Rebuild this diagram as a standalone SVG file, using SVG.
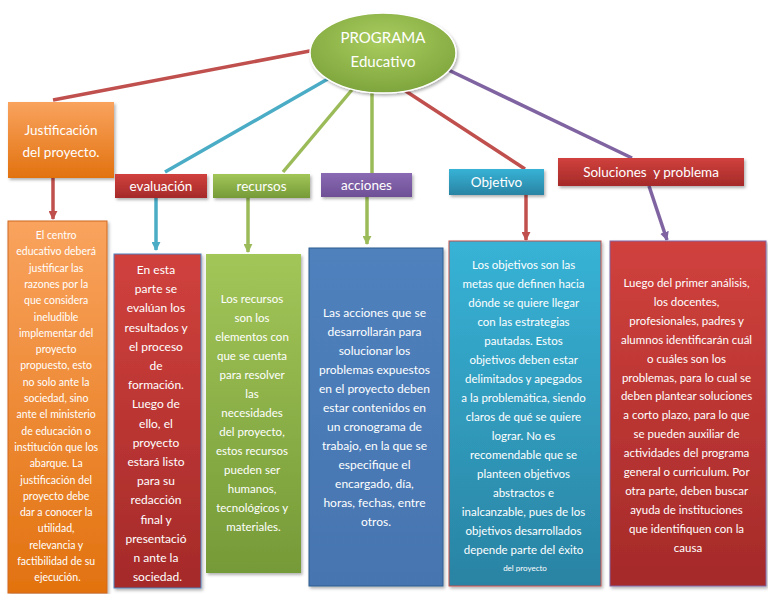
<svg xmlns="http://www.w3.org/2000/svg" width="768" height="594" viewBox="0 0 768 594">
<defs>
<style>
.t{font-family:Lato,"Liberation Sans",sans-serif;fill:#ffffff;text-anchor:middle}
.lbl{font-size:13.5px}
.c{fill:none;stroke-width:3.5}
.body{font-size:11.5px}
</style>
<linearGradient id="gOr" x1="0" y1="0" x2="0" y2="1"><stop offset="0" stop-color="#f9a35e"/><stop offset="1" stop-color="#e2720f"/></linearGradient>
<linearGradient id="gRed" x1="0" y1="0" x2="0" y2="1"><stop offset="0" stop-color="#d0413d"/><stop offset="1" stop-color="#a52a29"/></linearGradient>
<linearGradient id="gGr" x1="0" y1="0" x2="0" y2="1"><stop offset="0" stop-color="#a3c659"/><stop offset="1" stop-color="#759a37"/></linearGradient>
<linearGradient id="gBl" x1="0" y1="0" x2="0" y2="1"><stop offset="0" stop-color="#4f81bd"/><stop offset="1" stop-color="#4675b0"/></linearGradient>
<linearGradient id="gCy" x1="0" y1="0" x2="0" y2="1"><stop offset="0" stop-color="#37b3d6"/><stop offset="1" stop-color="#2a83a3"/></linearGradient>
<linearGradient id="gPu" x1="0" y1="0" x2="0" y2="1"><stop offset="0" stop-color="#8a6bb3"/><stop offset="1" stop-color="#6e4f96"/></linearGradient>
<radialGradient id="gEl" cx="0.5" cy="0.35" r="0.65"><stop offset="0" stop-color="#a9cc5e"/><stop offset="1" stop-color="#7ea53d"/></radialGradient>
<filter id="sh" x="-10%" y="-10%" width="130%" height="130%"><feDropShadow dx="1.5" dy="2" stdDeviation="1.5" flood-color="#000" flood-opacity="0.3"/></filter>
<marker id="aRed" viewBox="0 0 10 10" refX="9" refY="5" markerWidth="9" markerHeight="9" markerUnits="userSpaceOnUse" orient="auto"><path d="M0,0 L10,5 L0,10 z" fill="#c0504d"/></marker>
<marker id="aCy" viewBox="0 0 10 10" refX="9" refY="5" markerWidth="9" markerHeight="9" markerUnits="userSpaceOnUse" orient="auto"><path d="M0,0 L10,5 L0,10 z" fill="#4bacc6"/></marker>
<marker id="aGr" viewBox="0 0 10 10" refX="9" refY="5" markerWidth="9" markerHeight="9" markerUnits="userSpaceOnUse" orient="auto"><path d="M0,0 L10,5 L0,10 z" fill="#9bbb59"/></marker>
<marker id="aPu" viewBox="0 0 10 10" refX="9" refY="5" markerWidth="9" markerHeight="9" markerUnits="userSpaceOnUse" orient="auto"><path d="M0,0 L10,5 L0,10 z" fill="#8064a2"/></marker>
</defs>
<rect width="768" height="594" fill="#ffffff"/>

<g id="connectors">
<line class="c" x1="315" y1="50" x2="53" y2="100" stroke="#c0504d"/>
<line class="c" x1="333" y1="76" x2="165" y2="172" stroke="#4bacc6"/>
<line class="c" x1="356" y1="85" x2="283" y2="172" stroke="#9bbb59"/>
<line class="c" x1="372" y1="90" x2="372" y2="173" stroke="#9bbb59"/>
<line class="c" x1="401" y1="88" x2="525" y2="169" stroke="#c0504d"/>
<line class="c" x1="438" y1="65" x2="632" y2="158" stroke="#8064a2"/>
<line class="c" x1="53" y1="178" x2="53" y2="219" stroke="#c0504d" marker-end="url(#aRed)"/>
<line class="c" x1="156" y1="198" x2="156" y2="250" stroke="#4bacc6" marker-end="url(#aCy)"/>
<line class="c" x1="248" y1="198" x2="248" y2="252" stroke="#9bbb59" marker-end="url(#aGr)"/>
<line class="c" x1="367" y1="197" x2="367" y2="244" stroke="#9bbb59" marker-end="url(#aGr)"/>
<line class="c" x1="526" y1="195" x2="526" y2="240" stroke="#c0504d" marker-end="url(#aRed)"/>
<line class="c" x1="649" y1="186" x2="667" y2="240" stroke="#8064a2" marker-end="url(#aPu)"/>
</g>

<g id="programa">
<ellipse cx="383" cy="53" rx="73" ry="40" fill="url(#gEl)" stroke="#ffffff" stroke-width="1.5" filter="url(#sh)"/>
<text class="t" x="383" y="43" font-size="15" fill="#f4f6e8">PROGRAMA</text>
<text class="t" x="383" y="67" font-size="15" fill="#f4f6e8">Educativo</text>
</g>

<g id="justificacion">
<rect x="8" y="102" width="106" height="76" fill="url(#gOr)" filter="url(#sh)"/>
<text class="t lbl" x="61" y="135">Justificación</text>
<text class="t lbl" x="61" y="157">del proyecto.</text>
</g>

<g id="evaluacion">
<rect x="115" y="174" width="92" height="24" fill="url(#gRed)" filter="url(#sh)"/>
<text class="t lbl" x="161" y="191">evaluación</text>
</g>

<g id="recursos">
<rect x="213" y="174" width="97" height="24" fill="url(#gGr)" filter="url(#sh)"/>
<text class="t lbl" x="261.5" y="191">recursos</text>
</g>

<g id="acciones">
<rect x="321" y="173" width="91" height="24" fill="url(#gPu)" filter="url(#sh)"/>
<text class="t lbl" x="366.5" y="190">acciones</text>
</g>

<g id="objetivo">
<rect x="449" y="169" width="95" height="26" fill="url(#gCy)" filter="url(#sh)"/>
<text class="t lbl" x="496.5" y="187">Objetivo</text>
</g>

<g id="soluciones">
<rect x="558" y="158" width="186" height="28" fill="url(#gRed)" filter="url(#sh)"/>
<text class="t lbl" x="651" y="177" xml:space="preserve">Soluciones&#160; y problema</text>
</g>

<g id="justificacion-detalle">
<rect x="8" y="221" width="99" height="372" fill="url(#gOr)" stroke="#d06a20" stroke-width="1" filter="url(#sh)"/>
<text class="t" font-size="10.5" x="57.5" y="239">
<tspan x="57.5">El centro</tspan>
<tspan x="57.5" dy="16.3">educativo deberá</tspan>
<tspan x="57.5" dy="16.3">justificar las</tspan>
<tspan x="57.5" dy="16.3">razones por la</tspan>
<tspan x="57.5" dy="16.3">que considera</tspan>
<tspan x="57.5" dy="16.3">ineludible</tspan>
<tspan x="57.5" dy="16.3">implementar del</tspan>
<tspan x="57.5" dy="16.3">proyecto</tspan>
<tspan x="57.5" dy="16.3">propuesto, esto</tspan>
<tspan x="57.5" dy="16.3">no solo ante la</tspan>
<tspan x="57.5" dy="16.3">sociedad, sino</tspan>
<tspan x="57.5" dy="16.3">ante el ministerio</tspan>
<tspan x="57.5" dy="16.3">de educación o</tspan>
<tspan x="57.5" dy="16.3">institución que los</tspan>
<tspan x="57.5" dy="16.3">abarque. La</tspan>
<tspan x="57.5" dy="16.3">justificación del</tspan>
<tspan x="57.5" dy="16.3">proyecto debe</tspan>
<tspan x="57.5" dy="16.3">dar a conocer la</tspan>
<tspan x="57.5" dy="16.3">utilidad,</tspan>
<tspan x="57.5" dy="16.3">relevancia y</tspan>
<tspan x="57.5" dy="16.3">factibilidad de su</tspan>
<tspan x="57.5" dy="16.3">ejecución.</tspan>
</text>
</g>

<g id="evaluacion-detalle">
<rect x="114" y="254" width="87" height="334" fill="url(#gRed)" stroke="#4f81bd" stroke-width="1" filter="url(#sh)"/>
<text class="t" font-size="12" x="157.5" y="274">
<tspan x="157.5">En esta</tspan>
<tspan x="157.5" dy="19.2">parte se</tspan>
<tspan x="157.5" dy="19.2">evalúan los</tspan>
<tspan x="157.5" dy="19.2">resultados y</tspan>
<tspan x="157.5" dy="19.2">el proceso</tspan>
<tspan x="157.5" dy="19.2">de</tspan>
<tspan x="157.5" dy="19.2">formación.</tspan>
<tspan x="157.5" dy="19.2">Luego de</tspan>
<tspan x="157.5" dy="19.2">ello, el</tspan>
<tspan x="157.5" dy="19.2">proyecto</tspan>
<tspan x="157.5" dy="19.2">estará listo</tspan>
<tspan x="157.5" dy="19.2">para su</tspan>
<tspan x="157.5" dy="19.2">redacción</tspan>
<tspan x="157.5" dy="19.2">final y</tspan>
<tspan x="157.5" dy="19.2">presentació</tspan>
<tspan x="157.5" dy="19.2">n ante la</tspan>
<tspan x="157.5" dy="19.2">sociedad.</tspan>
</text>
</g>

<g id="recursos-detalle">
<rect x="206" y="254" width="95" height="319" fill="url(#gGr)" filter="url(#sh)"/>
<text class="t body" x="253.5" y="303">
<tspan x="253.5">Los recursos</tspan>
<tspan x="253.5" dy="19">son los</tspan>
<tspan x="253.5" dy="19">elementos con</tspan>
<tspan x="253.5" dy="19">que se cuenta</tspan>
<tspan x="253.5" dy="19">para resolver</tspan>
<tspan x="253.5" dy="19">las</tspan>
<tspan x="253.5" dy="19">necesidades</tspan>
<tspan x="253.5" dy="19">del proyecto,</tspan>
<tspan x="253.5" dy="19">estos recursos</tspan>
<tspan x="253.5" dy="19">pueden ser</tspan>
<tspan x="253.5" dy="19">humanos,</tspan>
<tspan x="253.5" dy="19">tecnológicos y</tspan>
<tspan x="253.5" dy="19">materiales.</tspan>
</text>
</g>

<g id="acciones-detalle">
<rect x="309" y="248" width="134" height="338" fill="url(#gBl)" stroke="#2f5c8f" stroke-width="1" filter="url(#sh)"/>
<text class="t" font-size="12" x="376" y="317">
<tspan x="376">Las acciones que se</tspan>
<tspan x="376" dy="19">desarrollarán para</tspan>
<tspan x="376" dy="19">solucionar los</tspan>
<tspan x="376" dy="19">problemas expuestos</tspan>
<tspan x="376" dy="19">en el proyecto deben</tspan>
<tspan x="376" dy="19">estar contenidos en</tspan>
<tspan x="376" dy="19">un cronograma de</tspan>
<tspan x="376" dy="19">trabajo, en la que se</tspan>
<tspan x="376" dy="19">especifique el</tspan>
<tspan x="376" dy="19">encargado, día,</tspan>
<tspan x="376" dy="19">horas, fechas, entre</tspan>
<tspan x="376" dy="19">otros.</tspan>
</text>
</g>

<g id="objetivo-detalle">
<rect x="449" y="241" width="152" height="345" fill="url(#gCy)" stroke="#c0504d" stroke-width="1" filter="url(#sh)"/>
<text class="t body" x="525" y="269">
<tspan x="525">Los objetivos son las</tspan>
<tspan x="525" dy="19">metas que definen hacia</tspan>
<tspan x="525" dy="19">dónde se quiere llegar</tspan>
<tspan x="525" dy="19">con las estrategias</tspan>
<tspan x="525" dy="19">pautadas. Estos</tspan>
<tspan x="525" dy="19">objetivos deben estar</tspan>
<tspan x="525" dy="19">delimitados y apegados</tspan>
<tspan x="525" dy="19">a la problemática, siendo</tspan>
<tspan x="525" dy="19">claros de qué se quiere</tspan>
<tspan x="525" dy="19">lograr. No es</tspan>
<tspan x="525" dy="19">recomendable que se</tspan>
<tspan x="525" dy="19">planteen objetivos</tspan>
<tspan x="525" dy="19">abstractos e</tspan>
<tspan x="525" dy="19">inalcanzable, pues de los</tspan>
<tspan x="525" dy="19">objetivos desarrollados</tspan>
<tspan x="525" dy="19">depende parte del éxito</tspan>
<tspan x="525" dy="17" font-size="8">del proyecto</tspan>
</text>
</g>

<g id="soluciones-detalle">
<rect x="610" y="241" width="156" height="345" fill="url(#gRed)" stroke="#8064a2" stroke-width="1" filter="url(#sh)"/>
<text class="t body" x="688" y="287">
<tspan x="688">Luego del primer análisis,</tspan>
<tspan x="688" dy="18.9">los docentes,</tspan>
<tspan x="688" dy="18.9">profesionales, padres y</tspan>
<tspan x="688" dy="18.9">alumnos identificarán cuál</tspan>
<tspan x="688" dy="18.9">o cuáles son los</tspan>
<tspan x="688" dy="18.9">problemas, para lo cual se</tspan>
<tspan x="688" dy="18.9">deben plantear soluciones</tspan>
<tspan x="688" dy="18.9">a corto plazo, para lo que</tspan>
<tspan x="688" dy="18.9">se pueden auxiliar de</tspan>
<tspan x="688" dy="18.9">actividades del programa</tspan>
<tspan x="688" dy="18.9">general o curriculum. Por</tspan>
<tspan x="688" dy="18.9">otra parte, deben buscar</tspan>
<tspan x="688" dy="18.9">ayuda de instituciones</tspan>
<tspan x="688" dy="18.9">que identifiquen con la</tspan>
<tspan x="688" dy="18.9">causa</tspan>
</text>
</g>
</svg>
